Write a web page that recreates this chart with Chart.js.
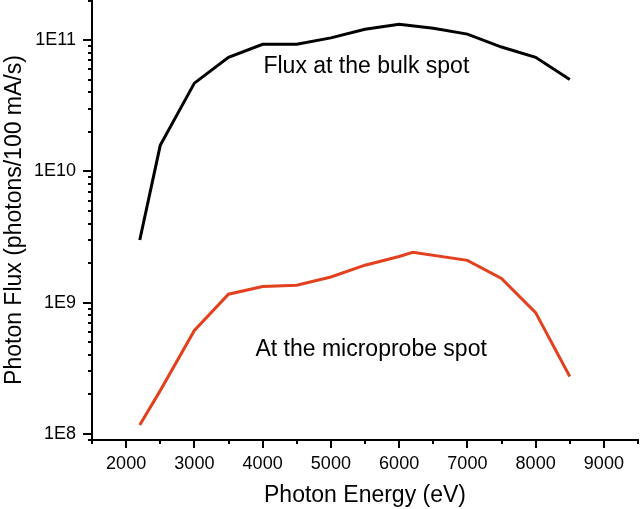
<!DOCTYPE html>
<html><head><meta charset="utf-8">
<script src="https://cdn.jsdelivr.net/npm/chart.js@4.4.1/dist/chart.umd.min.js"></script>
<style>html,body{margin:0;padding:0;background:#fff}#wrap{width:640px;height:509px}</style>
</head><body><div id="wrap"><canvas id="c" width="640" height="509"></canvas></div>
<script>
const energyBulk = [2200,2500,3000,3500,4000,4500,5000,5500,6000,6500,7000,7500,8000,8500];
const fluxBulk = [3.0e9,1.58e10,4.7e10,7.4e10,9.3e10,9.3e10,1.04e11,1.21e11,1.32e11,1.23e11,1.11e11,8.85e10,7.4e10,5.0e10];
const energyMicro = [2200,2500,3000,3500,4000,4500,5000,5500,6000,6200,7000,7500,8000,8500];
const fluxMicro = [1.17e8,2.14e8,6.15e8,1.16e9,1.33e9,1.36e9,1.57e9,1.93e9,2.25e9,2.42e9,2.1e9,1.53e9,8.4e8,2.74e8];
const seriesNames = ["Flux at the bulk spot","At the microprobe spot"];
const xTickLabels = ["2000","3000","4000","5000","6000","7000","8000","9000"];
const yTickLabels = ["1E8","1E9","1E10","1E11"];

const FONT = "Arial, 'Liberation Sans', sans-serif";

const tickPlugin = {
  id:'tickMarks',
  afterDraw(chart){
    const ctx = chart.ctx, xs = chart.scales.x, ys = chart.scales.y;
    const left = chart.chartArea.left, bottom = chart.chartArea.bottom;
    ctx.save();
    ctx.strokeStyle = '#000'; ctx.lineWidth = 2;
    ys.ticks.forEach(t=>{
      const v = t.value;
      const m = Math.round(v/Math.pow(10,Math.floor(Math.log10(v)+1e-9)));
      const y = Math.round(ys.getPixelForValue(v));
      const len = m===1 ? 9 : 4;
      ctx.beginPath(); ctx.moveTo(left, y); ctx.lineTo(left-len, y); ctx.stroke();
    });
    xs.ticks.forEach(t=>{
      const x = Math.round(xs.getPixelForValue(t.value));
      const len = t.value % 1000 === 0 ? 8 : 4;
      ctx.beginPath(); ctx.moveTo(x, bottom); ctx.lineTo(x, bottom+len); ctx.stroke();
    });
    ctx.fillStyle = '#000';
    ctx.font = '23px ' + FONT;
    ctx.textAlign = 'center'; ctx.textBaseline = 'middle';
    const notes = chart.options.plugins.tickMarks.notes;
    notes.forEach(n=>{
      ctx.fillText(n.text, xs.getPixelForValue(n.x), ys.getPixelForValue(n.y));
    });
    ctx.restore();
  }
};

new Chart(document.getElementById('c'), {
  type:'line',
  data:{
    datasets:[
      {label:seriesNames[0], data:energyBulk.map((e,i)=>({x:e,y:fluxBulk[i]})), borderColor:'#000', borderWidth:3, pointRadius:0, tension:0, fill:false},
      {label:seriesNames[1], data:energyMicro.map((e,i)=>({x:e,y:fluxMicro[i]})), borderColor:'#E2401E', borderWidth:3, pointRadius:0, tension:0, fill:false}
    ]
  },
  plugins:[tickPlugin],
  options:{
    responsive:false, animation:false, devicePixelRatio:1,
    layout:{padding:{left:0,right:2,top:0,bottom:0}},
    plugins:{
      legend:{display:false}, tooltip:{enabled:false},
      tickMarks:{notes:[
        {text:seriesNames[0], x:5520, y:6.3e10},
        {text:seriesNames[1], x:5590, y:4.4e8}
      ]}
    },
    scales:{
      x:{
        type:'linear', min:1500, max:9500,
        afterFit(s){ s.height = 69; s.paddingLeft = 0; s.paddingRight = 0; },
        afterBuildTicks(s){ const t=[]; for(let v=1500; v<=9500; v+=500) t.push({value:v}); s.ticks=t; },
        grid:{display:false, drawTicks:false},
        border:{display:true, color:'#000', width:2},
        ticks:{
          padding:13, color:'#000', font:{size:18, family:FONT}, maxRotation:0, autoSkip:false,
          callback(v){ const i = xTickLabels.indexOf(String(v)); return i>=0 ? xTickLabels[i] : ''; }
        },
        title:{display:true, text:'Photon Energy (eV)', color:'#000', font:{size:23, family:FONT}, padding:{top:2,bottom:0}}
      },
      y:{
        type:'logarithmic', min:9.0e7, max:2.02e11,
        afterFit(s){ s.width = 92; s.paddingTop = 0; s.paddingBottom = 0; },
        afterBuildTicks(s){
          const t=[];
          for(let e=7; e<=11; e++){ for(let m=1; m<=9; m++){ const v=m*Math.pow(10,e); if(v>=s.min*0.999 && v<=s.max*1.001) t.push({value:v}); } }
          s.ticks=t;
        },
        grid:{display:false, drawTicks:false},
        border:{display:true, color:'#000', width:2},
        ticks:{
          padding:16, color:'#000', font:{size:18, family:FONT}, autoSkip:false,
          callback(v){
            const e = Math.floor(Math.log10(v)+1e-9);
            const m = Math.round(v/Math.pow(10,e));
            if(m!==1) return '';
            const lab = '1E'+e;
            return yTickLabels.includes(lab) ? lab : '';
          }
        },
        title:{display:true, text:'Photon Flux (photons/100 mA/s)', color:'#000', font:{size:23, family:FONT}, padding:{top:1,bottom:0}}
      }
    }
  }
});
</script>
</body></html>
